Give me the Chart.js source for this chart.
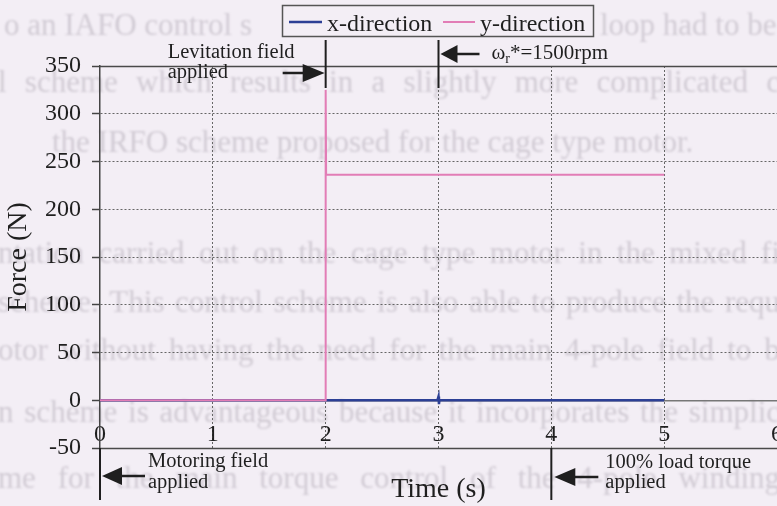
<!DOCTYPE html>
<html>
<head>
<meta charset="utf-8">
<script src="https://cdn.jsdelivr.net/npm/chart.js@4.4.1/dist/chart.umd.min.js"></script>
<style>
  html, body { margin: 0; padding: 0; overflow: hidden; width: 777px; height: 506px; background: #f3eef5; }
  canvas { display: block; }
</style>
</head>
<body>
<canvas id="forceChart" width="803" height="506" style="width:803px;height:506px"></canvas>
<script>
// Radial levitation force during start-up, x and y components
const timeX  = [0, 2.99, 3.0, 3.004, 3.008, 5];
const forceX = [0, 0, 4, -4, 0, 0];
const timeY  = [0, 2, 2, 2.004, 5];
const forceY = [0, 0, 325, 236, 236];
const seriesNames = ['x-direction', 'y-direction'];

// Axis ranges and tick spacing
const timeRange  = [0, 6];
const timeStep   = 1;
const forceRange = [-50, 350];
const forceStep  = 50;

// Events marked on the time axis
const eventLevitation = 2;
const eventSpeed      = 3;
const eventMotoring   = 0;
const eventLoad       = 4;

// Text of the page printed behind the figure
const pageLines = [
  { text: 'o an IAFO control s', x0: 4, x1: null, y: 35 },
  { text: 'loop had to be', x0: 600, x1: null, y: 35 },
  { text: 'l scheme which results in a slightly more complicated c', x0: -2, x1: 780, y: 92 },
  { text: 'the IRFO scheme proposed for the cage type motor.', x0: 52, x1: null, y: 152 },
  { text: 'ntation carried out on the cage type motor in the mixed fi', x0: -2, x1: 780, y: 263 },
  { text: 'scheme. This control scheme is also able to produce the requ', x0: -2, x1: 780, y: 312 },
  { text: 'otor without having the need for the main 4-pole field to b', x0: -2, x1: 780, y: 360 },
  { text: 'n scheme is advantageous because it incorporates the simplic', x0: -2, x1: 780, y: 422 },
  { text: 'me for the main torque control of the 4-pole winding', x0: -2, x1: 780, y: 488 }
];

const SERIF = "'Liberation Serif', 'Times New Roman', serif";
const BG = '#f3eef5';
const INK = '#1f1f1f';
const BLUE = '#2c3f95';
const PINK = '#e27db6';

function toPoints(xs, ys) { return xs.map((x, i) => ({ x: x, y: ys[i] })); }

function drawJustified(ctx, line) {
  const words = line.text.split(' ');
  if (line.x1 === null || words.length < 2) {
    ctx.fillText(line.text, line.x0, line.y);
    return;
  }
  const widths = words.map(w => ctx.measureText(w).width);
  const total = widths.reduce((a, b) => a + b, 0);
  const gap = (line.x1 - line.x0 - total) / (words.length - 1);
  let x = line.x0;
  words.forEach((w, i) => { ctx.fillText(w, x, line.y); x += widths[i] + gap; });
}

const pagePlugin = {
  id: 'pageBehind',
  beforeDraw(chart) {
    const ctx = chart.ctx;
    ctx.save();
    ctx.fillStyle = BG;
    ctx.fillRect(0, 0, chart.width, chart.height);
    ctx.filter = 'blur(1.1px)';
    ctx.fillStyle = '#d1cbd4';
    ctx.font = '31px ' + SERIF;
    ctx.textBaseline = 'alphabetic';
    ctx.textAlign = 'left';
    pageLines.forEach(l => drawJustified(ctx, l));
    ctx.restore();
  }
};

function arrowHead(ctx, tipX, y, baseX, half) {
  ctx.beginPath();
  ctx.moveTo(tipX, y);
  ctx.lineTo(baseX, y - half);
  ctx.lineTo(baseX, y + half);
  ctx.closePath();
  ctx.fill();
}

function hLine(ctx, x0, x1, y, w) {
  ctx.lineWidth = w;
  ctx.beginPath(); ctx.moveTo(x0, y); ctx.lineTo(x1, y); ctx.stroke();
}
function vLine(ctx, x, y0, y1, w) {
  ctx.lineWidth = w;
  ctx.beginPath(); ctx.moveTo(x, y0); ctx.lineTo(x, y1); ctx.stroke();
}

const decorPlugin = {
  id: 'decor',
  afterDraw(chart) {
    const ctx = chart.ctx;
    const xs = chart.scales.x, ys = chart.scales.y;
    const area = chart.chartArea;
    const top = ys.getPixelForValue(forceRange[1]);
    const bottom = ys.getPixelForValue(forceRange[0]);
    ctx.save();

    // frame lines at the ends of the force range
    ctx.strokeStyle = '#4a4a4a';
    hLine(ctx, area.left, area.right, Math.round(top) + 0.5, 1.5);
    hLine(ctx, area.left, area.right, Math.round(bottom) + 0.5, 1.5);

    ctx.strokeStyle = INK;
    ctx.fillStyle = INK;
    ctx.textAlign = 'left';
    ctx.textBaseline = 'alphabetic';

    // levitation field switched on
    const xl = xs.getPixelForValue(eventLevitation);
    vLine(ctx, xl, top - 26, top + 22, 2);
    hLine(ctx, xl - 43, xl - 20, top + 7, 2.5);
    arrowHead(ctx, xl - 1, top + 7, xl - 23, 9);
    ctx.font = '20.5px ' + SERIF;
    ctx.fillText('Levitation field', xl - 158, top - 8);
    ctx.fillText('applied', xl - 158, top + 12);

    // speed reference reached
    const xw = xs.getPixelForValue(eventSpeed);
    vLine(ctx, xw, top - 26, top + 22, 2);
    hLine(ctx, xw + 15, xw + 41, top - 12, 2.5);
    arrowHead(ctx, xw + 2, top - 12, xw + 19, 9);
    let tx = xw + 53;
    const ty = top - 7;
    ctx.font = '21px ' + SERIF;
    ctx.fillText('\u03c9', tx, ty); tx += ctx.measureText('\u03c9').width;
    ctx.font = '14px ' + SERIF;
    ctx.fillText('r', tx, ty + 4); tx += ctx.measureText('r').width;
    ctx.font = '21px ' + SERIF;
    ctx.fillText('*=1500rpm', tx, ty);

    // motoring field switched on
    const xm = xs.getPixelForValue(eventMotoring);
    vLine(ctx, xm, bottom, bottom + 52, 2);
    hLine(ctx, xm + 18, xm + 45, bottom + 28, 2.5);
    arrowHead(ctx, xm + 2, bottom + 28, xm + 22, 9);
    ctx.font = '20.5px ' + SERIF;
    ctx.fillText('Motoring field', xm + 48, bottom + 19);
    ctx.fillText('applied', xm + 48, bottom + 40);

    // full load torque step
    const xt = xs.getPixelForValue(eventLoad);
    vLine(ctx, xt, bottom, bottom + 52, 2);
    hLine(ctx, xt + 20, xt + 47, bottom + 29, 2.5);
    arrowHead(ctx, xt + 3, bottom + 29, xt + 24, 9);
    ctx.fillText('100% load torque', xt + 54, bottom + 20);
    ctx.fillText('applied', xt + 54, bottom + 40);

    // axis titles
    ctx.font = '28px ' + SERIF;
    ctx.textAlign = 'center';
    ctx.fillText('Time (s)', (area.left + area.right) / 2, 497);
    ctx.save();
    ctx.translate(26, (area.top + area.bottom) / 2);
    ctx.rotate(-Math.PI / 2);
    ctx.fillText('Force (N)', 0, 0);
    ctx.restore();

    // legend
    const lx0 = 282, lx1 = 593, ly0 = 5, ly1 = 36;
    ctx.fillStyle = BG;
    ctx.fillRect(lx0, ly0, lx1 - lx0, ly1 - ly0);
    ctx.strokeStyle = '#555';
    ctx.lineWidth = 1.5;
    ctx.strokeRect(lx0 + 0.5, ly0 + 0.5, lx1 - lx0, ly1 - ly0);
    ctx.strokeStyle = BLUE;
    hLine(ctx, 289, 322, 22, 2.5);
    ctx.strokeStyle = PINK;
    hLine(ctx, 443, 475, 22, 2);
    ctx.fillStyle = INK;
    ctx.textAlign = 'left';
    ctx.font = '24px ' + SERIF;
    ctx.fillText(seriesNames[0], 327, 31);
    ctx.fillText(seriesNames[1], 480, 31);

    ctx.restore();
  }
};

new Chart(document.getElementById('forceChart'), {
  type: 'scatter',
  data: {
    datasets: [
      {
        label: seriesNames[1],
        data: toPoints(timeY, forceY),
        showLine: true, borderColor: PINK, borderWidth: 2,
        pointRadius: 0, tension: 0, order: 0
      },
      {
        label: seriesNames[0],
        data: toPoints(timeX, forceX),
        showLine: true, borderColor: BLUE, borderWidth: 2.5,
        pointRadius: 0, tension: 0, order: 1
      }
    ]
  },
  options: {
    responsive: false,
    animation: false,
    events: [],
    layout: { padding: { top: 66, bottom: 58, left: 0, right: 11 } },
    plugins: { legend: { display: false }, tooltip: { enabled: false }, title: { display: false } },
    scales: {
      x: {
        type: 'linear',
        position: { y: 0 },
        min: timeRange[0], max: timeRange[1],
        ticks: { stepSize: timeStep, padding: 20, color: INK, font: { family: SERIF, size: 24 } },
        grid: {
          drawTicks: false,
          color: ctx => (ctx.tick && ctx.tick.value === timeRange[0]) ? 'rgba(0,0,0,0)' : '#666',
          lineWidth: 1
        },
        border: { display: true, color: '#777', width: 1.5, dash: [2, 2] }
      },
      y: {
        type: 'linear',
        position: 'left',
        min: forceRange[0], max: forceRange[1],
        ticks: { stepSize: forceStep, padding: 11, color: INK, font: { family: SERIF, size: 24 } },
        grid: {
          color: ctx => (ctx.tick && (ctx.tick.value === forceRange[0] || ctx.tick.value === forceRange[1] || ctx.tick.value === 0)) ? 'rgba(0,0,0,0)' : '#666',
          lineWidth: 1,
          tickLength: 8,
          tickColor: '#444',
          tickWidth: 1.5
        },
        border: { display: true, color: '#444', width: 1.5, dash: [2, 2] },
        afterFit(scale) { scale.width = 100; }
      }
    }
  },
  plugins: [pagePlugin, decorPlugin]
});
</script>
</body>
</html>
